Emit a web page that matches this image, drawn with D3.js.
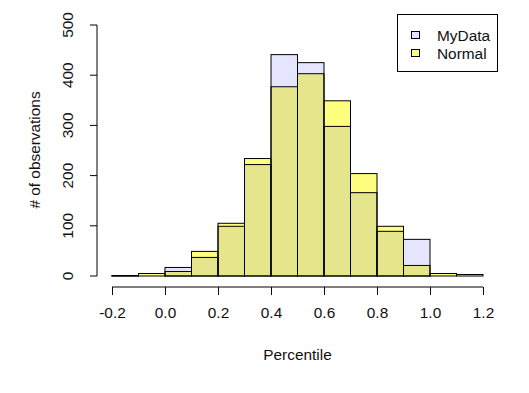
<!DOCTYPE html>
<html>
<head>
<meta charset="utf-8">
<script src="https://cdn.jsdelivr.net/npm/d3@7"></script>
<style>
  body { margin: 0; background: #fff; }
  text { font-family: "Liberation Sans", Arial, sans-serif; fill: #111; }
</style>
</head>
<body>
<svg id="chart" width="529" height="393"></svg>
<script>
// bin edges (width 0.1) and counts per bin
var binStarts = [-0.2, -0.1, 0.0, 0.1, 0.2, 0.3, 0.4, 0.5, 0.6, 0.7, 0.8, 0.9, 1.0, 1.1];
var myData   = [1, 0, 17, 37, 99, 222, 441, 425, 298, 166, 89, 73, 0, 0];
var normal   = [1, 5, 9, 49, 105, 234, 377, 403, 349, 204, 99, 21, 5, 3];
var xTicks = [-0.2, 0.0, 0.2, 0.4, 0.6, 0.8, 1.0, 1.2];
var yTicks = [0, 100, 200, 300, 400, 500];
var binWidth = 0.1;

var svg = d3.select('#chart');

var x = d3.scaleLinear().domain([-0.2, 1.2]).range([112, 483]);
var y = d3.scaleLinear().domain([0, 500]).range([276, 25]);

function bars(values, fill, cls) {
    var g = svg.append('g');
    values.forEach(function (v, i) {
        if (v <= 0) return;
        g.append('rect')
            .attr('class', cls)
            .attr('x', x(binStarts[i]))
            .attr('y', y(v))
            .attr('width', x(binStarts[i] + binWidth) - x(binStarts[i]))
            .attr('height', y(0) - y(v))
            .style('fill', fill)
            .style('stroke', '#000')
            .style('stroke-width', 1);
    });
}

// Normal first (yellow, half transparent), then MyData on top (faint blue)
bars(normal, 'rgba(255,255,0,0.5)', 'normal');
bars(myData, 'rgba(0,0,255,0.1)', 'mydata');

// x axis, offset below the bars like R does
var fmt = d3.format('.1f');
var xAxis = d3.axisBottom(x)
    .tickValues(xTicks)
    .tickSize(8)
    .tickPadding(12)
    .tickFormat(function (d) { return fmt(d).replace('\u2212', '-'); });

var gx = svg.append('g')
    .attr('transform', 'translate(0,287)')
    .call(xAxis);
gx.select('.domain').attr('d', 'M' + x(-0.2) + ',0H' + x(1.2));
gx.selectAll('text')
    .style('font-size', '15.4px')
    .style('font-family', '"Liberation Sans", Arial, sans-serif')
    .attr('fill', '#111');

// y axis with rotated tick labels
var yAxis = d3.axisLeft(y)
    .tickValues(yTicks)
    .tickSize(7)
    .tickFormat(d3.format('d'));

var gy = svg.append('g')
    .attr('transform', 'translate(97,0)')
    .call(yAxis);
gy.select('.domain').attr('d', 'M0,' + y(0) + 'V' + y(500));
gy.selectAll('text')
    .attr('x', null)
    .attr('dy', null)
    .attr('transform', function (d) { return 'translate(-24,' + y(d) + ') rotate(-90)'; })
    .attr('y', 0)
    .attr('text-anchor', 'middle')
    .attr('fill', '#111')
    .style('font-size', '15.4px')
    .style('font-family', '"Liberation Sans", Arial, sans-serif');
gy.selectAll('.tick').attr('transform', null);
gy.selectAll('.tick line')
    .attr('transform', function (d) { return 'translate(0,' + y(d) + ')'; });

// axis titles
svg.append('text')
    .attr('x', x(0.5))
    .attr('y', 360)
    .attr('text-anchor', 'middle')
    .style('font-size', '15.4px')
    .text('Percentile');

svg.append('text')
    .attr('transform', 'translate(40,150) rotate(-90)')
    .attr('text-anchor', 'middle')
    .style('font-size', '15.4px')
    .text('# of observations');

// legend
var legendItems = ['MyData', 'Normal'];
var legendFills = ['rgba(0,0,255,0.1)', 'rgba(255,255,0,0.5)'];

var legend = svg.append('g');
legend.append('rect')
    .attr('x', 397.5)
    .attr('y', 14.5)
    .attr('width', 100)
    .attr('height', 57)
    .style('fill', '#fff')
    .style('stroke', '#000');

legendItems.forEach(function (name, i) {
    legend.append('rect')
        .attr('x', 411.5)
        .attr('y', 31.5 + i * 18)
        .attr('width', 8)
        .attr('height', 7)
        .style('fill', legendFills[i])
        .style('stroke', '#000');
    legend.append('text')
        .attr('x', 437)
        .attr('y', 41 + i * 18)
        .style('font-size', '15.4px')
        .text(name);
});
</script>
</body>
</html>
